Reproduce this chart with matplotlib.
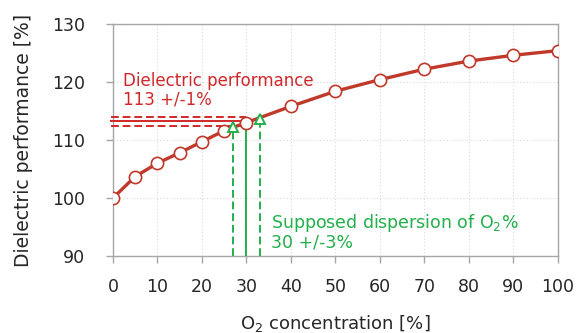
import matplotlib
matplotlib.use("Agg")
import matplotlib.pyplot as plt

o2 = [0, 5, 10, 15, 20, 25, 30, 40, 50, 60, 70, 80, 90, 100]
perf = [100.0, 103.7, 106.0, 107.8, 109.7, 111.6, 113.0, 115.8, 118.4, 120.4, 122.2, 123.6, 124.6, 125.4]

disp_x = [27, 33]
disp_y = [112.3, 113.6]
center_x = 30
perf_levels = [112.5, 113.2, 113.9]

x_ticks = [0, 10, 20, 30, 40, 50, 60, 70, 80, 90, 100]
y_ticks = [90, 100, 110, 120, 130]

RED = "#C0392B"
RED_TXT = "#D0282A"
GREEN = "#22B04B"
GRAY = "#A6A6A6"

plt.rcParams['font.family'] = ['DejaVu Sans']
fig = plt.figure(figsize=(5.79, 3.33), dpi=100)
ax = fig.add_axes([0.195, 0.231, 0.768, 0.697])

ax.set_xlim(0, 100)
ax.set_ylim(90, 130)
ax.set_xticks(x_ticks)
ax.set_yticks(y_ticks)
ax.grid(True, color="#D9D9D9", linestyle=(0, (1, 2)), linewidth=0.8)
for s in ax.spines.values():
    s.set_color(GRAY)
    s.set_linewidth(1.0)
ax.tick_params(axis='both', colors=GRAY, labelcolor="#262626", labelsize=12.5, length=5, width=1)
ax.tick_params(axis='x', pad=10.5)
ax.tick_params(axis='y', pad=15)

# red horizontal lines
ax.plot([-0.5, center_x], [perf_levels[1]] * 2, color=RED_TXT, lw=1.4, clip_on=False, zorder=3)
for yv in (perf_levels[0], perf_levels[2]):
    ax.plot([-0.5, center_x], [yv] * 2, color=RED_TXT, lw=1.4, ls=(0, (4, 2)), clip_on=False, zorder=3)

# green vertical lines
ax.plot([center_x, center_x], [90, 113.0], color=GREEN, lw=1.4, zorder=3)
for xv, yv in zip(disp_x, disp_y):
    ax.plot([xv, xv], [90, yv], color=GREEN, lw=1.4, ls=(0, (4, 2)), zorder=3)

ax.plot(o2, perf, color=RED, lw=2.4, marker='o', markersize=8.8,
        markerfacecolor='white', markeredgecolor=RED, markeredgewidth=1.2, zorder=4)
ax.plot(disp_x, disp_y, ls='none', marker='^', markersize=6.5,
        markerfacecolor='white', markeredgecolor=GREEN, markeredgewidth=1.4, zorder=5)

ax.text(2.2, 121.7, "Dielectric performance\n113 +/-1%", color=RED_TXT, fontsize=12,
        ha='left', va='top', linespacing=1.0)
ax.text(35.5, 97.6, "Supposed dispersion of O$_2$%\n30 +/-3%", color=GREEN, fontsize=12.5,
        ha='left', va='top', linespacing=0.95)

ax.set_xlabel("O$_2$ concentration [%]", fontsize=13, color="#262626")
ax.set_ylabel("Dielectric performance [%]", fontsize=13.5, color="#262626")
ax.xaxis.set_label_coords(0.5, -0.245)
ax.yaxis.set_label_coords(-0.18, 0.5)

fig.savefig("out.png", dpi=100)
